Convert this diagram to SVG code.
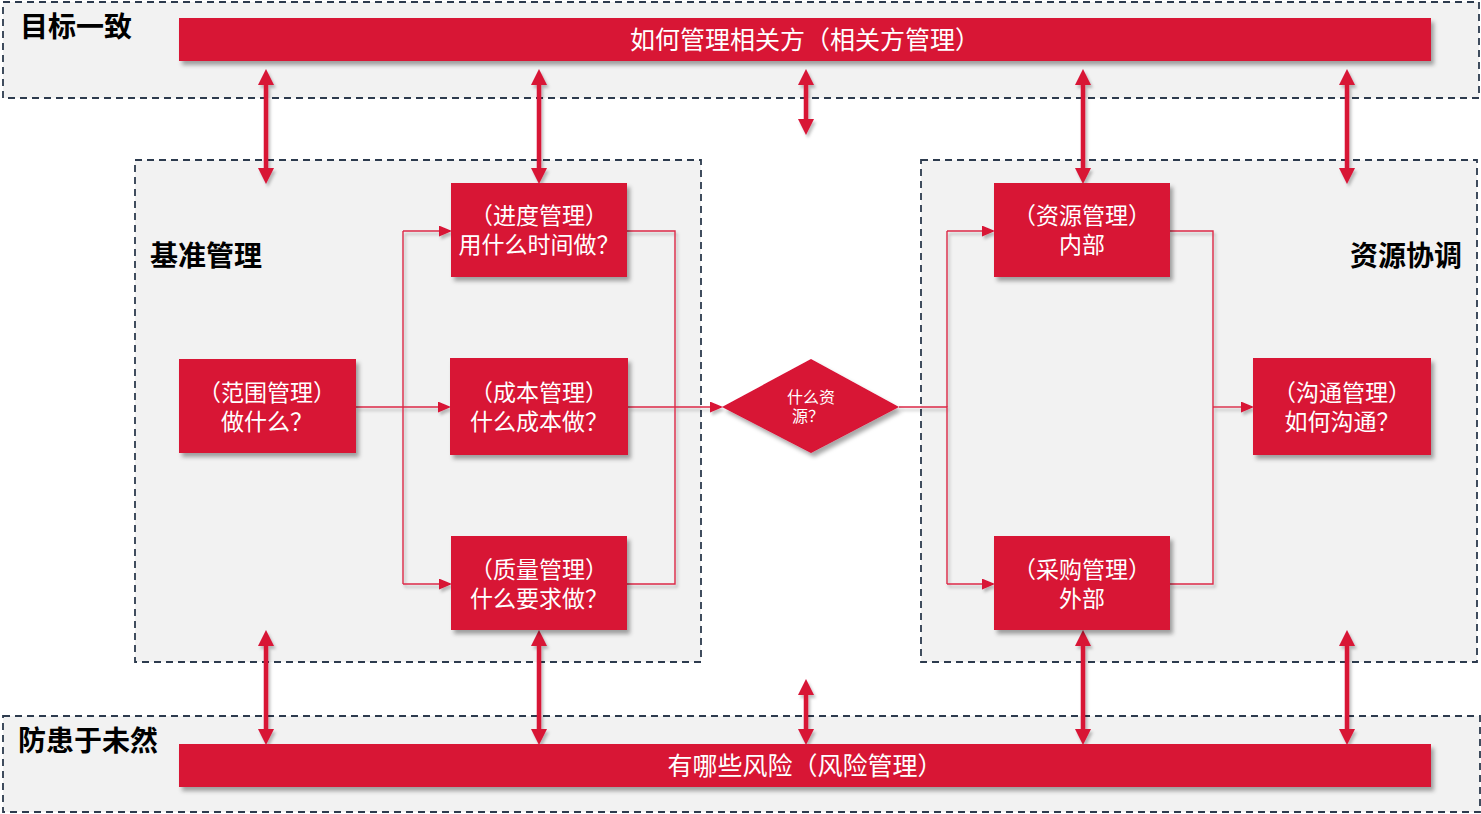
<svg xmlns="http://www.w3.org/2000/svg" width="1481" height="814" viewBox="0 0 1481 814">
<defs>
<filter id="sh" x="-10%" y="-10%" width="130%" height="140%">
<feDropShadow dx="3" dy="4" stdDeviation="2.2" flood-color="#000" flood-opacity="0.35"/>
</filter>
<filter id="shl" x="-10%" y="-10%" width="130%" height="140%">
<feDropShadow dx="2" dy="3" stdDeviation="1.5" flood-color="#000" flood-opacity="0.25"/>
</filter>
<marker id="big" markerUnits="userSpaceOnUse" markerWidth="16" markerHeight="16" refX="0" refY="7.5" orient="auto-start-reverse" viewBox="0 0 15 15">
<path d="M0,0 L15,7.5 L0,15 Z" fill="#D81236"/>
</marker>
<marker id="sm" markerUnits="userSpaceOnUse" markerWidth="13" markerHeight="11" refX="0" refY="5" orient="auto" viewBox="0 0 12 10">
<path d="M0,0 L12,5 L0,10 Z" fill="#D81236"/>
</marker>
<style>
.zone{fill:#f2f2f2;stroke:#2d3b4e;stroke-width:1.8;stroke-dasharray:7 5}
.box{fill:#D81236;filter:url(#sh)}
.t{font-family:"Microsoft YaHei","Noto Sans CJK SC",sans-serif;fill:#fff;font-size:23px;text-anchor:middle}
.bt{font-family:"Microsoft YaHei","Noto Sans CJK SC",sans-serif;fill:#fff;font-size:25px;text-anchor:middle}
.lbl{font-family:"Noto Sans CJK SC",sans-serif;fill:#000;font-size:28px;font-weight:bold}
.c{fill:none;stroke:#DC2A48;stroke-width:1.4}
.ca{fill:none;stroke:#DC2A48;stroke-width:1.4;marker-end:url(#sm)}
.da{stroke:#D81236;stroke-width:4.5;marker-start:url(#big);marker-end:url(#big)}
</style>
</defs>
<rect width="1481" height="814" fill="#fff"/>

<g id="zone-top">
<rect class="zone" x="3" y="2" width="1476" height="96"/>
<text class="lbl" x="20" y="37">目标一致</text>
</g>
<g id="zone-bottom">
<rect class="zone" x="3" y="716" width="1477" height="96"/>
<text class="lbl" x="18" y="751">防患于未然</text>
</g>
<g id="zone-left">
<rect class="zone" x="135" y="160" width="566" height="502"/>
<text class="lbl" x="150" y="266">基准管理</text>
</g>
<g id="zone-right">
<rect class="zone" x="921" y="160" width="556" height="502"/>
<text class="lbl" x="1462" y="266" text-anchor="end">资源协调</text>
</g>

<g id="connectors">
<g filter="url(#shl)">
<path class="c" d="M356,407 H403"/>
<path class="ca" d="M403,407 H438"/>
<path class="c" d="M403,231 V584"/>
<path class="ca" d="M403,231 H439"/>
<path class="ca" d="M403,584 H439"/>
<path class="c" d="M627,231 H675 V584 H627"/>
<path class="ca" d="M628,407 H710"/>
<path class="c" d="M899,407 H947 V584"/>
<path class="c" d="M947,231 V407"/>
<path class="ca" d="M947,231 H982"/>
<path class="ca" d="M947,584 H982"/>
<path class="c" d="M1170,231 H1213 V584 H1170"/>
<path class="ca" d="M1213,407 H1241"/>
</g>
<g filter="url(#shl)">
<line class="da" x1="266" y1="85" x2="266" y2="168"/>
<line class="da" x1="539" y1="85" x2="539" y2="168"/>
<line class="da" x1="806" y1="85" x2="806" y2="119"/>
<line class="da" x1="1083" y1="85" x2="1083" y2="168"/>
<line class="da" x1="1347" y1="85" x2="1347" y2="168"/>
<line class="da" x1="266" y1="646" x2="266" y2="729"/>
<line class="da" x1="539" y1="646" x2="539" y2="729"/>
<line class="da" x1="806" y1="695" x2="806" y2="729"/>
<line class="da" x1="1083" y1="646" x2="1083" y2="729"/>
<line class="da" x1="1347" y1="646" x2="1347" y2="729"/>
</g>
</g>

<g id="bar-top">
<rect class="box" x="179" y="18" width="1252" height="43"/>
<text class="bt" x="805" y="49">如何管理相关方（相关方管理）</text>
</g>
<g id="bar-bottom">
<rect class="box" x="179" y="744" width="1252" height="43"/>
<text class="bt" x="805" y="775">有哪些风险（风险管理）</text>
</g>

<g id="node-schedule">
<rect class="box" x="451" y="183" width="176" height="94"/>
<text class="t" x="539" y="224">（进度管理）</text>
<text class="t" x="539" y="253">用什么时间做？</text>
</g>
<g id="node-scope">
<rect class="box" x="179" y="359" width="177" height="94"/>
<text class="t" x="267" y="401">（范围管理）</text>
<text class="t" x="267" y="430">做什么？</text>
</g>
<g id="node-cost">
<rect class="box" x="450" y="358" width="178" height="97"/>
<text class="t" x="539" y="401">（成本管理）</text>
<text class="t" x="539" y="430">什么成本做？</text>
</g>
<g id="node-quality">
<rect class="box" x="451" y="536" width="176" height="94"/>
<text class="t" x="539" y="578">（质量管理）</text>
<text class="t" x="539" y="607">什么要求做？</text>
</g>
<g id="node-decision">
<path class="box" d="M811,359 L899,407 L811,453 L722,407 Z"/>
<text class="t" style="font-size:16px" x="811" y="403">什么资</text>
<text class="t" style="font-size:16px" x="808" y="422">源？</text>
</g>
<g id="node-resource">
<rect class="box" x="994" y="183" width="176" height="94"/>
<text class="t" x="1082" y="224">（资源管理）</text>
<text class="t" x="1082" y="253">内部</text>
</g>
<g id="node-procurement">
<rect class="box" x="994" y="536" width="176" height="94"/>
<text class="t" x="1082" y="578">（采购管理）</text>
<text class="t" x="1082" y="607">外部</text>
</g>
<g id="node-communication">
<rect class="box" x="1253" y="358" width="178" height="97"/>
<text class="t" x="1342" y="401">（沟通管理）</text>
<text class="t" x="1342" y="430">如何沟通？</text>
</g>
</svg>
